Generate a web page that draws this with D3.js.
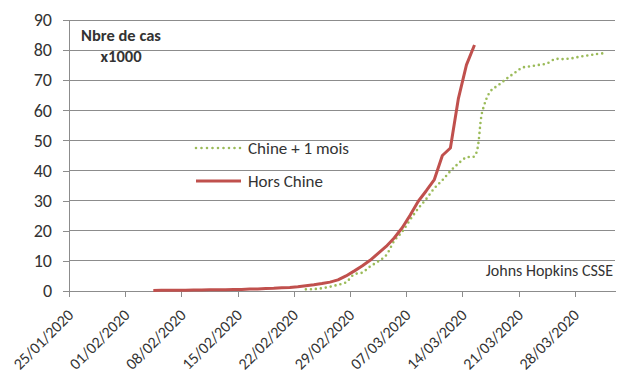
<!DOCTYPE html>
<html>
<head>
<meta charset="utf-8">
<script src="https://cdn.jsdelivr.net/npm/d3@7"></script>
<style>
  body { margin: 0; background: #fff; }
  svg text { font-family: Carlito, Lato, "Open Sans", sans-serif; fill: #333; }
</style>
</head>
<body>
<svg id="chart"></svg>
<script>
// axis ticks
const xTickLabels = ["25/01/2020", "01/02/2020", "08/02/2020", "15/02/2020", "22/02/2020",
                     "29/02/2020", "07/03/2020", "14/03/2020", "21/03/2020", "28/03/2020"];
const yTicks = [0, 10, 20, 30, 40, 50, 60, 70, 80, 90];

// Hors Chine, one value per day from 04/02/2020 (x1000 cas)
const horsChineStart = "04/02/2020";
const horsChine = [0.19, 0.21, 0.22, 0.27, 0.29, 0.31, 0.32, 0.39, 0.39, 0.45,
                   0.51, 0.53, 0.67, 0.69, 0.79, 0.89, 1.07, 1.18, 1.41, 1.75,
                   2.07, 2.46, 2.95, 3.7, 5.0, 6.6, 8.3, 10.2, 12.5, 14.8,
                   17.6, 21.0, 25.2, 29.8, 33.3, 37.0, 45.0, 47.5, 64.0, 75.1, 81.7];

// Chine décalée d'un mois, one value per day from 23/02/2020
const chineStart = "23/02/2020";
const chine = [0.55, 0.64, 0.92, 1.41, 2.08, 2.88, 5.51, 6.09, 8.14, 9.8,
               11.89, 16.63, 19.72, 23.71, 27.44, 30.59, 34.11, 36.81, 39.83, 42.35,
               44.39, 44.76, 59.9, 66.36, 68.41, 70.51, 72.43, 74.21, 74.62, 75.08,
               75.55, 77.0, 77.02, 77.24, 77.75, 78.17, 78.6, 78.93];

const legendLabels = ["Chine + 1 mois", "Hors Chine"];
const colors = { chine: "#9BBB59", hors: "#C0504D", grid: "#8C8C8C" };

class LineChart {
    constructor(sel) {
        this.svg = d3.select(sel);
        this.width = 628;
        this.height = 381;
        this.margin = { top: 20, right: 13, bottom: 90, left: 69 };
        this.parse = d3.timeParse("%d/%m/%Y");
    }

    init() {
        this.svg.attr("width", this.width).attr("height", this.height);
        const innerW = this.width - this.margin.left - this.margin.right;
        const innerH = this.height - this.margin.top - this.margin.bottom;
        this.innerW = innerW;
        this.innerH = innerH;

        this.chart = this.svg.append("g")
            .attr("transform", `translate(${this.margin.left}, ${this.margin.top})`);

        // date axis from 25/01 to 02/04 (Excel-like)
        const t0 = this.parse(xTickLabels[0]);
        const t1 = d3.timeDay.offset(t0, 68);
        this.xscale = d3.scaleTime().domain([t0, t1]).range([0, innerW]);
        this.yscale = d3.scaleLinear().domain([0, 90]).range([innerH, 0]);

        this.toSeries = (start, vals) => {
            const s = this.parse(start);
            // points sit in the middle of their day
            return vals.map((v, i) => ({ date: d3.timeHour.offset(d3.timeDay.offset(s, i), 12), value: v }));
        };

        this.drawAxes();
        this.render();
    }

    drawAxes() {
        // gridlines
        this.chart.append("g")
            .selectAll("line")
            .data(yTicks.filter(d => d > 0))
            .join("line")
            .attr("x1", 0).attr("x2", this.innerW)
            .attr("y1", d => this.yscale(d)).attr("y2", d => this.yscale(d))
            .attr("stroke", colors.grid).attr("stroke-width", 1)
            .attr("shape-rendering", "crispEdges");

        const yaxis = d3.axisLeft(this.yscale).tickValues(yTicks).tickSize(6).tickSizeOuter(0).tickPadding(11);
        const yg = this.chart.append("g").call(yaxis);
        yg.selectAll("line, path").attr("stroke", colors.grid).attr("shape-rendering", "crispEdges");
        yg.selectAll("text").attr("font-size", 18).attr("fill", "#333");

        const xaxis = d3.axisBottom(this.xscale)
            .tickValues(xTickLabels.map(this.parse))
            .tickFormat(d3.timeFormat("%d/%m/%Y"))
            .tickSize(6).tickSizeOuter(0);
        const xg = this.chart.append("g")
            .attr("transform", `translate(0, ${this.innerH})`)
            .call(xaxis);
        xg.selectAll("line, path").attr("stroke", colors.grid).attr("shape-rendering", "crispEdges");
        xg.selectAll("text")
            .attr("font-size", 16)
            .attr("fill", "#333")
            .attr("text-anchor", "end")
            .attr("x", 0).attr("y", 0).attr("dy", 0)
            .attr("transform", "translate(5, 25) rotate(-45)");
        xg.attr("font-family", null);
        yg.attr("font-family", null);
    }

    render() {
        const line = d3.line()
            .x(d => this.xscale(d.date))
            .y(d => this.yscale(d.value));

        this.chart.append("path")
            .datum(this.toSeries(chineStart, chine))
            .attr("d", line.curve(d3.curveCatmullRom.alpha(0.5)))
            .attr("fill", "none")
            .attr("stroke", colors.chine)
            .attr("stroke-width", 2.6)
            .attr("stroke-linecap", "round")
            .attr("stroke-dasharray", "0 5");

        this.chart.append("path")
            .datum(this.toSeries(horsChineStart, horsChine))
            .attr("d", line.curve(d3.curveLinear))
            .attr("fill", "none")
            .attr("stroke", colors.hors)
            .attr("stroke-width", 3)
            .attr("stroke-linejoin", "round");

        // title
        const title = this.svg.append("text")
            .attr("text-anchor", "middle")
            .attr("font-weight", "bold")
            .attr("font-size", 16.5);
        title.append("tspan").attr("x", 121).attr("y", 41).text("Nbre de cas");
        title.append("tspan").attr("x", 121).attr("y", 62).text("x1000");

        // legend
        const leg = this.svg.append("g").attr("transform", "translate(196, 148)");
        const items = leg.selectAll("g")
            .data(legendLabels)
            .join("g")
            .attr("transform", (d, i) => `translate(0, ${i * 33})`);
        items.append("line")
            .attr("x1", 0).attr("x2", 45).attr("y1", 0).attr("y2", 0)
            .attr("stroke", (d, i) => i === 0 ? colors.chine : colors.hors)
            .attr("stroke-width", (d, i) => i === 0 ? 2.6 : 3)
            .attr("stroke-linecap", (d, i) => i === 0 ? "round" : "butt")
            .attr("stroke-dasharray", (d, i) => i === 0 ? "0 5.5" : null);
        items.append("text")
            .attr("x", 52).attr("dy", "0.35em")
            .attr("font-size", 17)
            .text(d => d);

        // source
        this.svg.append("text")
            .attr("x", 613).attr("y", 276)
            .attr("text-anchor", "end")
            .attr("font-size", 16)
            .text("Johns Hopkins CSSE");
    }
}

const chart = new LineChart("#chart");
chart.init();
</script>
</body>
</html>
